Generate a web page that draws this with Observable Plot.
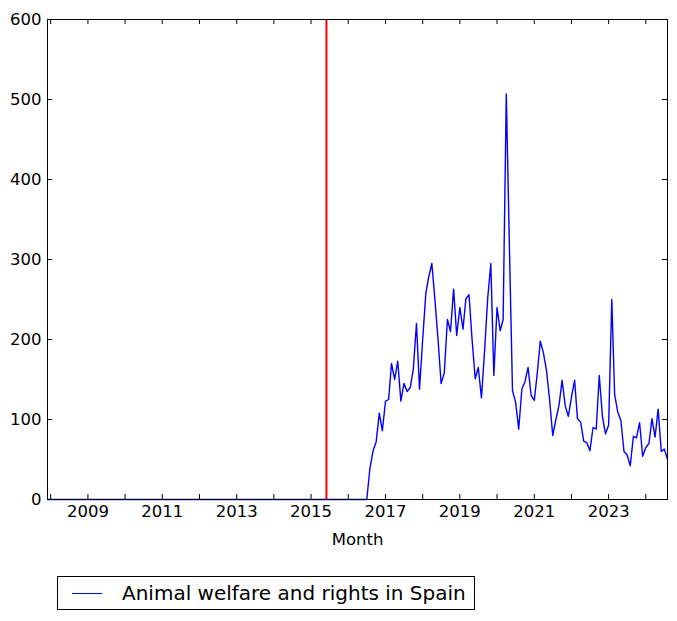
<!DOCTYPE html>
<html>
<head>
<meta charset="utf-8">
<script src="https://cdn.jsdelivr.net/npm/d3@7"></script>
<script src="https://cdn.jsdelivr.net/npm/@observablehq/plot@0.6"></script>
<style>
  body { margin: 0; background: #fff; font-family: "DejaVu Sans", sans-serif; }
  #legend {
    position: relative; margin-left: 57px; margin-top: 16px;
    width: 416px; height: 32px; border: 1px solid #000;
    display: flex; align-items: center; box-sizing: content-box;
  }
  #legend .swatch { width: 30px; height: 0; border-top: 1.3px solid blue; margin-left: 14px; margin-right: 20px; }
  #legend .label { font-size: 20px; color: #000; white-space: nowrap; }
</style>
</head>
<body>
<div id="chart"></div>
<div id="legend"><div class="swatch"></div><div class="label"></div></div>
<script>
const seriesName = "Animal welfare and rights in Spain";
const firstMonth = "2007-12-01";
const lastMonth = "2024-08-01";
// monthly values, Dec 2007 .. Aug 2024
const values = [
  0,                                         // 2007-12
  0,0,0,0,0,0,0,0,0,0,0,0,                   // 2008
  0,0,0,0,0,0,0,0,0,0,0,0,                   // 2009
  0,0,0,0,0,0,0,0,0,0,0,0,                   // 2010
  0,0,0,0,0,0,0,0,0,0,0,0,                   // 2011
  0,0,0,0,0,0,0,0,0,0,0,0,                   // 2012
  0,0,0,0,0,0,0,0,0,0,0,0,                   // 2013
  0,0,0,0,0,0,0,0,0,0,0,0,                   // 2014
  0,0,0,0,0,0,0,0,0,0,0,0,                   // 2015
  0,0,0,0,0,0,0,39,61,72,108,86,             // 2016
  123,125,170,150,173,123,145,135,140,163,220,138, // 2017
  200,258,278,295,250,200,145,158,225,210,263,205, // 2018
  240,213,251,256,200,151,165,127,186,251,295,155, // 2019
  240,211,225,507,320,136,122,88,138,147,165,130,  // 2020
  124,160,198,183,161,124,80,100,118,149,117,104,  // 2021
  128,149,101,97,73,71,61,90,88,155,104,82,        // 2022
  93,250,131,109,99,60,56,42,79,77,96,54,          // 2023
  65,70,101,78,113,60,63,50                         // 2024
];
const eventDates = ["2015-06-01"];
const yTicks = [0, 100, 200, 300, 400, 500, 600];
const tickYears = [2008, 2009, 2010, 2011, 2012, 2013, 2014, 2015, 2016, 2017, 2018, 2019, 2020, 2021, 2022, 2023, 2024];
const labelYears = [2009, 2011, 2013, 2015, 2017, 2019, 2021, 2023];

const months = d3.utcMonth.range(new Date(firstMonth), d3.utcMonth.offset(new Date(lastMonth), 1));
const data = months.map((date, i) => ({date, value: values[i]}));
const yearDate = y => new Date(Date.UTC(y, 0, 1));

const W = 677, H = 560;
const mL = 47, mR = 10, mT = 19, mB = 61;
const fw = W - mL - mR, fh = H - mT - mB;
const tick = 5;

const chart = Plot.plot({
  width: W, height: H,
  marginLeft: mL, marginRight: mR, marginTop: mT, marginBottom: mB,
  style: {fontFamily: "DejaVu Sans, sans-serif", fontSize: "16.5px", color: "#000", background: "#fff", overflow: "visible"},
  x: {type: "utc", domain: [new Date(firstMonth), new Date(lastMonth)]},
  y: {domain: [0, 600]},
  marks: [
    Plot.ruleX(eventDates, {x: d => new Date(d), stroke: "red", strokeWidth: 2}),
    Plot.line(data, {x: "date", y: "value", stroke: "blue", strokeWidth: 1.4}),
    Plot.ruleX(tickYears, {x: yearDate, insetTop: fh - tick, stroke: "#000"}),
    Plot.ruleX(tickYears, {x: yearDate, insetBottom: fh - tick, stroke: "#000"}),
    Plot.ruleY(yTicks, {y: d => d, insetRight: fw - tick, stroke: "#000"}),
    Plot.ruleY(yTicks, {y: d => d, insetLeft: fw - tick, stroke: "#000"}),
    Plot.axisX(labelYears.map(yearDate), {
      tickSize: 0, tickPadding: 6, tickFormat: d3.utcFormat("%Y"),
      label: "Month", labelAnchor: "center", labelArrow: "none", labelOffset: 45,
      fontSize: 16.5
    }),
    Plot.axisY(yTicks, {tickSize: 0, tickPadding: 6, label: null, fontSize: 16.5}),
    Plot.frame({stroke: "#000", strokeWidth: 1})
  ]
});
document.getElementById("chart").appendChild(chart);
document.querySelector("#legend .label").textContent = seriesName;
</script>
</body>
</html>
